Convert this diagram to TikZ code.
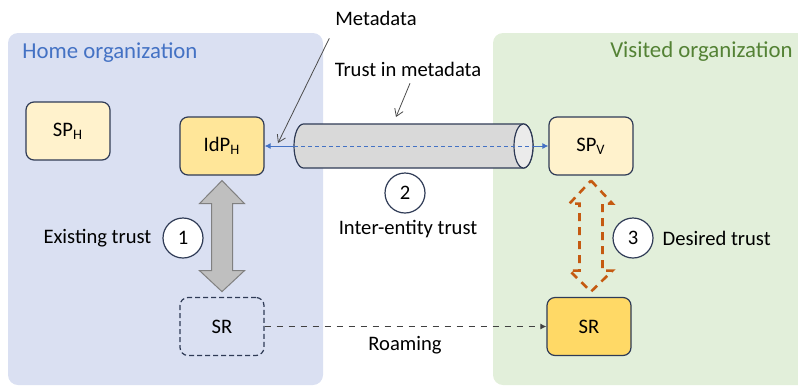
\documentclass[tikz,border=0pt]{standalone}
\usepackage{fontspec}
\setmainfont{Carlito}
\usepackage{tikz}
\usetikzlibrary{shapes.geometric, positioning, arrows.meta}

\definecolor{homebg}{HTML}{DAE0F2}
\definecolor{visitbg}{HTML}{E2EFDA}
\definecolor{hometext}{HTML}{4472C4}
\definecolor{visittext}{HTML}{548235}
\definecolor{edgeblue}{HTML}{2F3B56}
\definecolor{lightbox}{HTML}{FFF2CC}
\definecolor{midbox}{HTML}{FFE699}
\definecolor{darkbox}{HTML}{FFD966}
\definecolor{desired}{HTML}{C55A11}

\begin{document}
\begin{tikzpicture}[x=0.5pt, y=0.5pt, font=\fontsize{10.3}{12}\selectfont,
    entity/.style={draw=edgeblue, line width=0.6pt, rounded corners=4pt, minimum width=42pt, minimum height=29pt},
    badge/.style={circle, draw=edgeblue, fill=white, line width=0.6pt, minimum size=20pt, inner sep=0pt},
    orgtitle/.style={font=\fontsize{11.4}{13}\selectfont, inner sep=0pt},
    callout/.style={draw=black!70, line width=0.4pt, -{Straight Barb[length=3.5pt, width=4.5pt]}},
    metaline/.style={draw=hometext, line width=0.5pt}]
        \useasboundingbox (0,0) rectangle (798,-387);

        % Organizations
        \fill[homebg, rounded corners=5pt] (8,-33) rectangle (323,-385);
        \node[orgtitle, text=hometext, anchor=west] (home) at (22,-53) {Home organization};

        \fill[visitbg, rounded corners=5pt] (493,-33) rectangle (810,-385);
        \node[orgtitle, text=visittext, anchor=east] (visited) at (793,-52) {Visited organization};

        % Entities
        \node[entity, fill=lightbox] (sph) at (68,-131) {SP\textsubscript{H}};
        \node[entity, fill=midbox] (idph) at (222,-146) {IdP\textsubscript{H}};
        \node[entity, fill=lightbox] (spv) at (591,-146) {SP\textsubscript{V}};
        \node[entity, dash pattern=on 2.5pt off 1.5pt] (srh) at (222,-326.5) {SR};
        \node[entity, fill=darkbox] (srv) at (589,-326.5) {SR};

        % Metadata pipe between IdP and SP
        \coordinate (pipe west) at (294,-146);
        \coordinate (pipe east) at (533,-146);
        \filldraw[fill=black!15, draw=edgeblue, line width=0.6pt] (303.5,-124) -- (523.5,-124)
            arc[start angle=90, end angle=-90, x radius=9.5, y radius=22] -- (303.5,-168)
            arc[start angle=270, end angle=90, x radius=9.5, y radius=22] -- cycle;
        \filldraw[fill=black!8, draw=edgeblue, line width=0.6pt] (523.5,-146) ellipse[x radius=9.5, y radius=22];
        \draw[metaline, <-, >={Latex[length=3pt, width=3pt]}] (idph.east) -- (pipe west);
        \draw[metaline, ->, >={Latex[length=3pt, width=3pt]}] (pipe east) -- (spv.west);
        \draw[metaline, dash pattern=on 2pt off 1.5pt] (pipe west) -- (pipe east);

        % Callouts
        \node (mdlabel) at (376,-18) {Metadata};
        \coordinate (md tip) at (278,-143);
        \draw[callout] ([xshift=0.5pt, yshift=-3pt]mdlabel.south west) -- (md tip);

        \node (tmlabel) at (408,-69) {Trust in metadata};
        \coordinate (tm tip) at (396,-117);
        \draw[callout] ([xshift=1pt]tmlabel.south) -- (tm tip);

        % Existing trust (big gray arrow)
        \draw[fill=black!25, draw=black!50, line width=0.5pt] ([yshift=-2.5pt]idph.south) -- ++(22.5,-23) -- ++(-12,0) -- ++(0,-67)
            -- ++(12,0) -- ++(-22.5,-21) -- ++(-22.5,21) -- ++(12,0) -- ++(0,67) -- ++(-12,0) -- cycle;
        \node[badge] (one) at (183,-238) {1};
        \node[left=2pt of one] (existing) {Existing trust};

        % Inter-entity trust
        \node[badge] (two) at (405,-193) {2};
        \node (interentity) at (408,-229) {Inter-entity trust};

        % Desired trust (dashed orange arrow)
        \draw[desired, line width=1.3pt, dash pattern=on 4pt off 3pt] ([yshift=-2.5pt]spv.south) -- ++(21.5,-23) -- ++(-10,0) -- ++(0,-67)
            -- ++(10,0) -- ++(-21.5,-21) -- ++(-21.5,21) -- ++(10,0) -- ++(0,67) -- ++(-10,0) -- cycle;
        \node[badge] (three) at (633,-238) {3};
        \node[right=1pt of three] (desired) {Desired trust};

        % Roaming
        \draw[dashed, black!75, line width=0.5pt, -{Latex[length=3pt, width=3pt]}] (srh) -- (srv);
        \node (roaming) at (405,-345) {Roaming};
    \end{tikzpicture}
\end{document}
